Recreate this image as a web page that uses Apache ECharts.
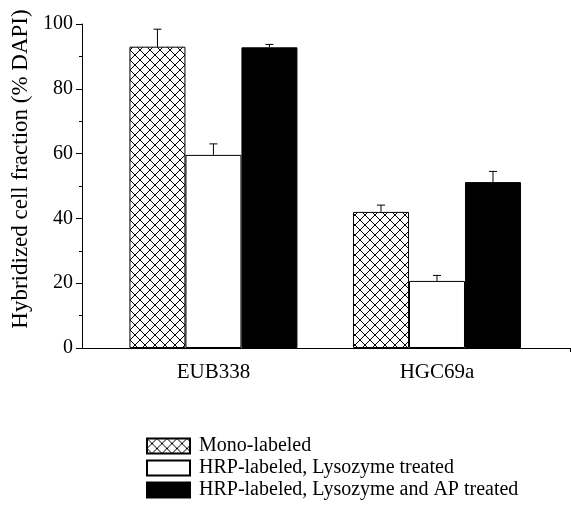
<!DOCTYPE html>
<html>
<head>
<meta charset="utf-8">
<script src="https://cdn.jsdelivr.net/npm/echarts@6/dist/echarts.min.js"></script>
<style>
  html, body { margin: 0; padding: 0; background: #fff; }
  #chart { width: 571px; height: 515px; }
</style>
</head>
<body>
<div id="chart"></div>
<script>
const categories = ['EUB338', 'HGC69a'];
const seriesNames = ['Mono-labeled', 'HRP-labeled, Lysozyme treated', 'HRP-labeled, Lysozyme and AP treated'];
// bar heights per series, one value per category
const monoValues = [93.0, 42.0];
const lysoValues = [59.6, 20.7];
const lysoApValues = [92.8, 51.2];
// top of the error bar per series
const monoErrTop = [98.4, 44.1];
const lysoErrTop = [63.0, 22.4];
const lysoApErrTop = [93.7, 54.5];
const yTicks = [0, 20, 40, 60, 80, 100];

const FONT = '"Liberation Serif", "DejaVu Serif", serif';
const BAR_W = 56;

// cross hatch fill
function hatch() {
  const c = document.createElement('canvas');
  c.width = 10; c.height = 10;
  const ctx = c.getContext('2d');
  ctx.fillStyle = '#fff';
  ctx.fillRect(0, 0, 10, 10);
  ctx.strokeStyle = '#000';
  ctx.lineWidth = 1;
  ctx.beginPath();
  ctx.moveTo(0, 0); ctx.lineTo(10, 10);
  ctx.moveTo(10, 0); ctx.lineTo(0, 10);
  ctx.stroke();
  return c;
}

const chart = echarts.init(document.getElementById('chart'));

function barSeries(name, values, color) {
  return {
    name: name,
    type: 'bar',
    barWidth: BAR_W,
    barGap: '0%',
    data: values.map((v, i) => [i + 1, v]),
    itemStyle: { color: color, borderColor: '#000', borderWidth: 1 },
    silent: true
  };
}

function errSeries(values, tops, offset) {
  return {
    type: 'custom',
    silent: true,
    data: values.map((v, i) => [i + 1, v, tops[i]]),
    renderItem(params, api) {
      const p0 = api.coord([api.value(0), api.value(1)]);
      const p1 = api.coord([api.value(0), api.value(2)]);
      const x = p0[0] + offset;
      return {
        type: 'group',
        children: [
          { type: 'line', shape: { x1: x, y1: p0[1], x2: x, y2: p1[1] }, style: { stroke: '#000', lineWidth: 1 } },
          { type: 'line', shape: { x1: x - 4, y1: p1[1], x2: x + 4, y2: p1[1] }, style: { stroke: '#000', lineWidth: 1 } }
        ]
      };
    }
  };
}

const option = {
  animation: false,
  backgroundColor: '#fff',
  grid: { left: 82, right: 1, top: 24, bottom: 167 },
  xAxis: {
    type: 'value',
    min: 0.412,
    max: 2.595,
    axisLine: { show: true, lineStyle: { color: '#000', width: 1 } },
    axisTick: { show: true, customValues: [2.595], length: 4, lineStyle: { color: '#000' } },
    splitLine: { show: false },
    axisLabel: {
      customValues: [1, 2],
      formatter: v => categories[Math.round(v) - 1],
      color: '#000',
      fontFamily: FONT,
      fontSize: 21,
      margin: 14
    }
  },
  yAxis: {
    type: 'value',
    min: 0,
    max: 100,
    interval: 20,
    name: 'Hybridized cell fraction (% DAPI)',
    nameLocation: 'middle',
    nameGap: 48,
    nameTextStyle: { color: '#000', fontFamily: FONT, fontSize: 23, padding: [0, 0, 0, 34] },
    axisLine: { show: true, lineStyle: { color: '#000', width: 1 } },
    axisTick: { show: true, length: 6, lineStyle: { color: '#000' } },
    minorTick: { show: true, splitNumber: 2, length: 3, lineStyle: { color: '#000' } },
    splitLine: { show: false },
    axisLabel: {
      formatter: v => (yTicks.indexOf(v) >= 0 ? String(v) : ''),
      color: '#000',
      fontFamily: FONT,
      fontSize: 20,
      margin: 9
    }
  },
  legend: {
    data: seriesNames,
    orient: 'vertical',
    left: 141,
    top: 431,
    icon: 'rect',
    itemWidth: 43,
    itemHeight: 15,
    itemGap: 2,
    textStyle: { color: '#000', fontFamily: FONT, fontSize: 20, lineHeight: 16, padding: [0, 0, 0, 4] }
  },
  series: [
    barSeries(seriesNames[0], monoValues, { image: hatch(), repeat: 'repeat' }),
    barSeries(seriesNames[1], lysoValues, '#fff'),
    barSeries(seriesNames[2], lysoApValues, '#000'),
    errSeries(monoValues, monoErrTop, -BAR_W),
    errSeries(lysoValues, lysoErrTop, 0),
    errSeries(lysoApValues, lysoApErrTop, BAR_W)
  ]
};

chart.setOption(option);
</script>
</body>
</html>
